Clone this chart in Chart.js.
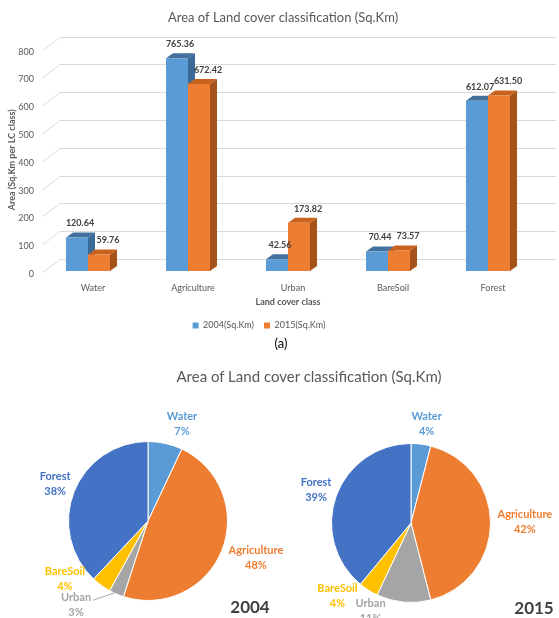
<!DOCTYPE html>
<html>
<head>
<meta charset="utf-8">
<script src="https://cdn.jsdelivr.net/npm/chart.js@4/dist/chart.umd.min.js"></script>
<style>
  body { margin: 0; background: #fff; font-family: Lato, sans-serif; }
  #page { position: relative; width: 559px; height: 618px; overflow: hidden; }
  canvas { position: absolute; }
  .txt { position: absolute; white-space: nowrap; text-align: center; }
  .year { font-weight: bold; font-size: 17px; line-height: 20px; color: #404040; width: 60px; }
</style>
</head>
<body>
<div id="page">
  <canvas id="barChart" width="559" height="340" style="left:0;top:0"></canvas>
  <div class="txt" style="left:0;top:335px;width:562px;font-size:13px;line-height:16px;color:#000">(a)</div>
  <div class="txt" style="left:0;top:367px;width:618px;font-size:15px;line-height:18px;color:#595959">Area of Land cover classification (Sq.Km)</div>
  <canvas id="pie2004" width="310" height="228" style="left:0;top:390px"></canvas>
  <canvas id="pie2015" width="279" height="228" style="left:280px;top:390px"></canvas>
  <div class="txt year" style="left:220px;top:597px">2004</div>
  <div class="txt year" style="left:504px;top:598px">2015</div>
</div>
<script>
// Land cover areas per class (Sq.Km)
const landClasses = ['Water', 'Agriculture', 'Urban', 'BareSoil', 'Forest'];
const area2004 = [120.64, 765.36, 42.56, 70.44, 612.07];
const area2015 = [59.76, 672.42, 173.82, 73.57, 631.50];
const seriesNames = ['2004(Sq.Km)', '2015(Sq.Km)'];

// Share of each class in percent, as shown on the pies
const share2004 = [7, 48, 3, 4, 38];
const share2015 = [4, 42, 11, 4, 39];

const classColors = ['#5b9bd5', '#ed7d31', '#a5a5a5', '#ffc000', '#4472c4'];

Chart.defaults.font.family = "Lato, 'Open Sans', sans-serif";
Chart.defaults.color = '#595959';

// fake 3d: depth of the bars and of the back wall
const DX = 7, DY = -5;
const WALL_X = 17, WALL_Y = -12;

const bar3d = {
    id: 'bar3d',
    afterLayout(chart) {
        // title sits a bit right of the plot centre, legend a bit left
        chart.titleBlock.left += 14;
        chart.titleBlock.right += 14;
        chart.legend.left -= 10;
        chart.legend.right -= 10;
    },
    beforeDatasetsDraw(chart) {
        const ctx = chart.ctx;
        const area = chart.chartArea;
        const yScale = chart.scales.y;
        ctx.save();
        // grid on the back wall, with the slanted floor edge
        ctx.strokeStyle = '#d9d9d9';
        ctx.lineWidth = 1;
        yScale.ticks.forEach(t => {
            const py = Math.round(yScale.getPixelForValue(t.value)) + 0.5;
            ctx.beginPath();
            ctx.moveTo(area.left + 5, py + 1);
            ctx.lineTo(area.left + 5 + WALL_X, py + WALL_Y);
            ctx.lineTo(area.right + 18, py + WALL_Y);
            ctx.stroke();
        });
        // side and top faces, front faces are drawn by chart.js afterwards
        chart.data.datasets.forEach((ds, i) => {
            chart.getDatasetMeta(i).data.forEach(bar => {
                const l = bar.x - bar.width / 2, r = bar.x + bar.width / 2;
                ctx.fillStyle = ds.sideColor;
                ctx.beginPath();
                ctx.moveTo(r, bar.y);
                ctx.lineTo(r + DX, bar.y + DY);
                ctx.lineTo(r + DX, bar.base + DY);
                ctx.lineTo(r, bar.base);
                ctx.closePath();
                ctx.fill();
                ctx.fillStyle = ds.topColor;
                ctx.beginPath();
                ctx.moveTo(l, bar.y);
                ctx.lineTo(r, bar.y);
                ctx.lineTo(r + DX, bar.y + DY);
                ctx.lineTo(l + DX, bar.y + DY);
                ctx.closePath();
                ctx.fill();
            });
        });
        ctx.restore();
    },
    afterDatasetsDraw(chart) {
        const ctx = chart.ctx;
        ctx.save();
        ctx.font = 'bold 9px Lato';
        ctx.fillStyle = '#404040';
        ctx.textAlign = 'center';
        ctx.textBaseline = 'middle';
        chart.data.datasets.forEach((ds, i) => {
            chart.getDatasetMeta(i).data.forEach((bar, j) => {
                ctx.fillText(ds.data[j].toFixed(2), bar.x + ds.labelShift, bar.y - 14);
            });
        });
        ctx.restore();
    }
};

new Chart(document.getElementById('barChart'), {
    type: 'bar',
    data: {
        labels: landClasses,
        datasets: [
            { label: seriesNames[0], data: area2004, backgroundColor: '#5b9bd5', topColor: '#41719c', sideColor: '#3a6a96', labelShift: 3 },
            { label: seriesNames[1], data: area2015, backgroundColor: '#ed7d31', topColor: '#c9621d', sideColor: '#a5521b', labelShift: 9 }
        ]
    },
    options: {
        responsive: false,
        animation: false,
        layout: { padding: { left: 0, right: 21, top: 0, bottom: 0 } },
        categoryPercentage: 0.44,
        barPercentage: 1,
        plugins: {
            title: {
                display: true,
                text: 'Area of Land cover classification (Sq.Km)',
                font: { size: 13, weight: 'normal' },
                color: '#595959',
                padding: { top: 10, bottom: 23 }
            },
            legend: {
                position: 'bottom',
                labels: { boxWidth: 6, boxHeight: 6, font: { size: 9 }, color: '#595959', padding: 10 }
            },
            tooltip: { enabled: false }
        },
        scales: {
            x: {
                grid: { display: false, drawTicks: false },
                border: { display: false },
                ticks: { font: { size: 9 }, color: '#595959', padding: 12, labelOffset: 5, maxRotation: 0 },
                title: { display: true, text: 'Land cover class', font: { size: 9, weight: 'bold' }, color: '#595959' },
                afterFit: scale => { scale.height = 40; }
            },
            y: {
                min: 0,
                max: 800,
                grid: { display: false, drawTicks: false },
                border: { display: false },
                ticks: { stepSize: 100, font: { size: 9 }, color: '#595959', padding: 4, labelOffset: 3 },
                title: { display: true, text: 'Area (Sq.Km per LC class)', font: { size: 9, weight: 'bold' }, color: '#595959', padding: { top: 7, bottom: 0 } },
                afterFit: scale => { scale.width = 38; }
            }
        }
    },
    plugins: [bar3d]
});

// labels outside the slices, pushed off the arc midpoint
const pieLabels = {
    id: 'pieLabels',
    afterDatasetsDraw(chart, args, opts) {
        const ctx = chart.ctx;
        const meta = chart.getDatasetMeta(0);
        const values = chart.data.datasets[0].data;
        ctx.save();
        ctx.font = 'bold 11px Lato';
        ctx.textAlign = 'center';
        ctx.textBaseline = 'middle';
        meta.data.forEach((arc, i) => {
            const mid = (arc.startAngle + arc.endAngle) / 2;
            const cx0 = Math.cos(mid), cy0 = Math.sin(mid);
            const name = chart.data.labels[i];
            const pct = values[i] + '%';
            const w = Math.max(ctx.measureText(name).width, ctx.measureText(pct).width);
            const h = 30;
            const n = opts.nudge[i];
            const x = arc.x + cx0 * (arc.outerRadius + 6) + cx0 * w / 2 + n[0];
            const y = arc.y + cy0 * (arc.outerRadius + 6) + cy0 * h / 2 + n[1];
            ctx.fillStyle = classColors[i];
            ctx.fillText(name, x, y - 7.5);
            ctx.fillText(pct, x, y + 7.5);
            if (opts.leader === i) {
                ctx.strokeStyle = '#a5a5a5';
                ctx.lineWidth = 1;
                ctx.beginPath();
                ctx.moveTo(x + ctx.measureText(name).width / 2 + 2, y - 5);
                ctx.lineTo(arc.x + cx0 * arc.outerRadius * 0.97, arc.y + cy0 * arc.outerRadius * 0.97);
                ctx.stroke();
            }
        });
        ctx.restore();
    }
};

function makePie(id, shares, padding, nudge, leader) {
    new Chart(document.getElementById(id), {
        type: 'pie',
        data: {
            labels: landClasses,
            datasets: [{ data: shares, backgroundColor: classColors, borderColor: '#ffffff', borderWidth: 1 }]
        },
        options: {
            responsive: false,
            animation: false,
            layout: { padding: padding },
            plugins: {
                legend: { display: false },
                tooltip: { enabled: false },
                pieLabels: { nudge: nudge, leader: leader }
            }
        },
        plugins: [pieLabels]
    });
}

makePie('pie2004', share2004, { left: 68, right: 82, top: 51, bottom: 17 },
    [[12, 1], [3, 0], [-32, -8], [-21, -23], [1, 0]], 2);
makePie('pie2015', share2015, { left: 51, right: 68, top: 53, bottom: 15 },
    [[3, 1], [1, -1], [-31, -12], [-17, -12], [0, 1]], -1);
</script>
</body>
</html>
